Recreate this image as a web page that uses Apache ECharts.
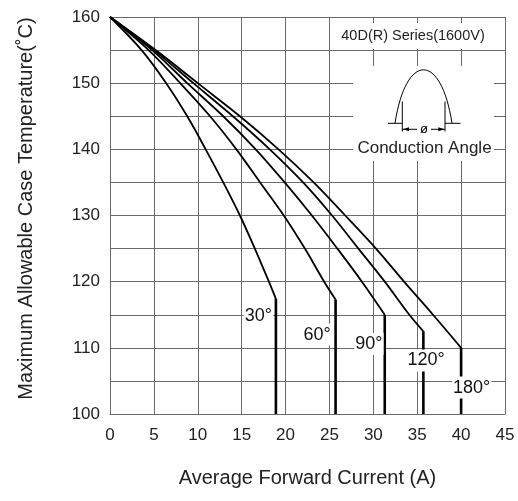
<!DOCTYPE html>
<html>
<head>
<meta charset="utf-8">
<script src="https://cdn.jsdelivr.net/npm/echarts@6/dist/echarts.min.js"></script>
<style>
  html, body { margin: 0; padding: 0; background: #fff; }
  #chart { width: 518px; height: 501px; }
</style>
</head>
<body>
<div id="chart"></div>
<script>
// curves: [current (A), case temperature (°C)]
const curve30 = [[0, 160], [3.6, 155], [6.4, 150], [8.8, 145], [10.9, 140], [12.9, 135], [14.8, 130], [16.5, 125], [18.1, 120], [18.9, 117.4]];
const curve60 = [[0, 160], [4.4, 155], [8.0, 150], [11.4, 145], [14.4, 140], [17.1, 135], [19.8, 130], [22.2, 125], [24.4, 120], [25.7, 117.3]];
const curve90 = [[0, 160], [4.8, 155], [8.8, 150], [12.9, 145], [16.6, 140], [19.9, 135], [23.0, 130], [25.9, 125], [28.7, 120], [31.3, 115]];
const curve120 = [[0, 160], [5.0, 155], [9.5, 150], [14.0, 145], [18.2, 140], [22.0, 135], [25.3, 130], [28.3, 125], [31.3, 120], [34.1, 115], [35.7, 112.5]];
const curve180 = [[0, 160], [5.2, 155], [10.0, 150], [14.8, 145], [19.2, 140], [23.2, 135], [26.8, 130], [30.3, 125], [33.5, 120], [36.8, 115], [40.0, 110]];

const curves = [curve30, curve60, curve90, curve120, curve180];
const angleNames = ['30°', '60°', '90°', '120°', '180°'];
const angleLabelAt = [[16.9, 114.8], [23.6, 112.0], [29.5, 110.6], [36.0, 108.1], [41.2, 104.0]];

const xRange = [0, 45];
const yRange = [100, 160];

const font = 'Liberation Sans, Arial, sans-serif';
const gridColor = '#6a6a6a';

const chart = echarts.init(document.getElementById('chart'));

const series = [];
curves.forEach((pts) => {
  const last = pts[pts.length - 1];
  // curved part
  series.push({
    type: 'line',
    data: pts,
    smooth: 0.35,
    symbol: 'none',
    silent: true,
    lineStyle: {color: '#000', width: 1.8},
    z: 3
  });
  // straight drop to the bottom of the chart
  series.push({
    type: 'line',
    data: [last, [last[0], yRange[0]]],
    symbol: 'none',
    silent: true,
    lineStyle: {color: '#000', width: 2.6},
    z: 3
  });
});

const line = (x1, y1, x2, y2) => ({
  type: 'line', z: 5, silent: true,
  shape: {x1, y1, x2, y2},
  style: {stroke: '#000', lineWidth: 1}
});

const inset = [
  // title box
  {type: 'rect', z: 1, silent: true, shape: {x: 332, y: 23, width: 172, height: 26}, style: {fill: '#fff'}},
  {type: 'text', z: 5, silent: true, x: 413, y: 36,
    style: {text: '40D(R) Series(1600V)', fontSize: 14.5, fontFamily: font, fill: '#222', align: 'center', verticalAlign: 'middle'}},
  // inset box
  {type: 'rect', z: 1, silent: true, shape: {x: 353, y: 66, width: 141, height: 95}, style: {fill: '#fff'}},
  {type: 'bezierCurve', z: 5, silent: true,
    shape: {x1: 395, y1: 123.3, cpx1: 406, cpy1: 52, cpx2: 441, cpy2: 52, x2: 452, y2: 123.3},
    style: {stroke: '#000', lineWidth: 1, fill: null}},
  line(402.3, 101.5, 402.3, 131.5),
  line(445, 101.5, 445, 131.5),
  line(388, 123.3, 402.3, 123.3),
  line(445, 123.3, 460.5, 123.3),
  line(402.3, 129.3, 417, 129.3),
  line(431, 129.3, 445, 129.3),
  {type: 'polygon', z: 5, silent: true, shape: {points: [[402.8, 129.3], [409, 127.3], [409, 131.3]]}, style: {fill: '#000'}},
  {type: 'polygon', z: 5, silent: true, shape: {points: [[444.5, 129.3], [438.3, 127.3], [438.3, 131.3]]}, style: {fill: '#000'}},
  {type: 'text', z: 5, silent: true, x: 424, y: 129,
    style: {text: 'ø', fontSize: 13, fontFamily: font, fill: '#000', align: 'center', verticalAlign: 'middle'}},
  {type: 'text', z: 5, silent: true, x: 424.5, y: 148.5,
    style: {text: 'Conduction Angle', fontSize: 17, fontFamily: font, fill: '#222', align: 'center', verticalAlign: 'middle'}}
];

chart.setOption({
  animation: false,
  backgroundColor: '#fff',
  grid: {left: 110, right: 13, top: 17, bottom: 87, outerBoundsMode: 'none'},
  xAxis: {
    type: 'value',
    min: xRange[0],
    max: xRange[1],
    interval: 5,
    name: 'Average Forward Current (A)',
    nameLocation: 'middle',
    nameGap: 54,
    nameTextStyle: {fontSize: 20, fontFamily: font, color: '#222'},
    axisLine: {show: true, lineStyle: {color: gridColor, width: 1}},
    axisTick: {show: false},
    axisLabel: {fontSize: 17, fontFamily: font, color: '#222', margin: 13},
    splitLine: {show: true, lineStyle: {color: gridColor, width: 1}}
  },
  yAxis: {
    type: 'value',
    min: yRange[0],
    max: yRange[1],
    interval: 10,
    name: 'Maximum Allowable Case Temperature(˚C)',
    nameLocation: 'middle',
    nameGap: 74,
    nameTextStyle: {fontSize: 20, fontFamily: font, color: '#222', padding: [0, 0, 0, 14]},
    axisLine: {show: true, lineStyle: {color: gridColor, width: 1}},
    axisTick: {show: false},
    axisLabel: {fontSize: 17, fontFamily: font, color: '#222', margin: 10},
    splitLine: {show: true, lineStyle: {color: gridColor, width: 1}},
    minorTick: {show: false, splitNumber: 2},
    minorSplitLine: {show: true, lineStyle: {color: gridColor, width: 1}}
  },
  series: series,
  graphic: inset
});

// angle names sit in white boxes on top of the lines, placed through the grid's scales
const angleTags = angleLabelAt.map((p, i) => {
  const px = chart.convertToPixel({gridIndex: 0}, p);
  return {
    type: 'text', z: 20, silent: true, x: px[0], y: px[1],
    style: {
      text: angleNames[i], fontSize: 18, fontFamily: font, fill: '#111',
      align: 'center', verticalAlign: 'middle',
      backgroundColor: '#fff', padding: [2, 1]
    }
  };
});
chart.setOption({graphic: inset.concat(angleTags)});
</script>
</body>
</html>
